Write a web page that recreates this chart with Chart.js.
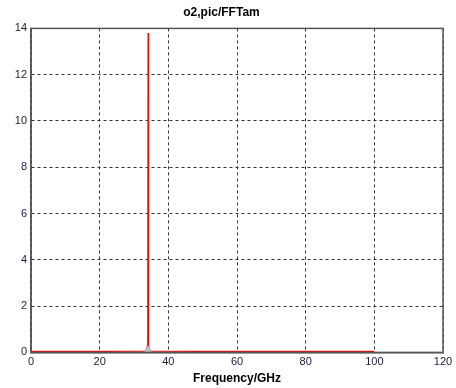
<!DOCTYPE html>
<html>
<head>
    <meta charset="utf-8" />
    <title>o2,pic/FFTam</title>
    <script src="https://cdn.jsdelivr.net/npm/chart.js"></script>
    <style>
        body { margin: 0; background: #fff; }
        #wrap { width: 456px; height: 388px; }
    </style>
</head>
<body>
    <div id="wrap"><canvas id="chart"></canvas></div>

    <script>
        // spectrum samples (GHz, amplitude)
        const freqs = [0, 20, 33.3, 33.7, 33.9, 34.0, 34.1, 34.2, 34.3, 34.5, 34.9, 50, 100];
        const amps  = [0.04, 0.04, 0.05, 0.1, 0.3, 0.8, 13.8, 0.8, 0.3, 0.1, 0.05, 0.04, 0.04];
        // small grey bump under the peak
        const bumpFreqs = [33.0, 34.1, 35.2];
        const bumpAmps  = [0.0, 0.3, 0.0];

        const xTicks = [0, 20, 40, 60, 80, 100, 120];
        const yTicks = [0, 2, 4, 6, 8, 10, 12, 14];

        const toXY = (xs, ys) => xs.map((x, i) => ({x: x, y: ys[i]}));

        var ctx = document.getElementById('chart').getContext('2d');
        new Chart(ctx, {
            type: 'line',
            data: {
                datasets: [{
                    data: toXY(bumpFreqs, bumpAmps),
                    borderColor: '#a0a0a0',
                    backgroundColor: '#c8c8c8',
                    fill: true,
                    borderWidth: 1,
                    pointRadius: 0,
                    tension: 0
                }, {
                    data: toXY(freqs, amps),
                    borderColor: '#ff0000',
                    borderWidth: 1.2,
                    pointRadius: 0,
                    tension: 0
                }]
            },
            options: {
                responsive: true,
                maintainAspectRatio: false,
                animation: false,
                layout: { padding: { left: 0, right: 13, top: 0, bottom: 0 } },
                plugins: {
                    legend: { display: false },
                    tooltip: { enabled: false },
                    title: {
                        display: true,
                        text: 'o2,pic/FFTam',
                        color: '#000',
                        font: { family: 'Arial, "Liberation Sans"', size: 12, weight: 'bold' },
                        padding: { top: 5, bottom: 9 }
                    }
                },
                scales: {
                    x: {
                        type: 'linear',
                        min: 0,
                        max: 120,
                        afterBuildTicks: s => { s.ticks = xTicks.map(v => ({value: v})); },
                        ticks: {
                            color: '#1a1a3a',
                            font: { family: 'Arial, "Liberation Sans"', size: 11 },
                            padding: 3,
                            maxRotation: 0
                        },
                        grid: {
                            color: '#333',
                            lineWidth: 1,
                            drawTicks: false
                        },
                        // in v4 border.dash styles the grid lines
                        border: { color: '#555', width: 1.5, dash: [3, 3] },
                        title: {
                            display: true,
                            text: 'Frequency/GHz',
                            color: '#000',
                            font: { family: 'Arial, "Liberation Sans"', size: 12, weight: 'bold' },
                            padding: { top: 0, bottom: 2 }
                        }
                    },
                    y: {
                        min: 0,
                        max: 14,
                        afterBuildTicks: s => { s.ticks = yTicks.map(v => ({value: v})); },
                        afterFit: s => { s.width = 31; },
                        ticks: {
                            color: '#1a1a3a',
                            font: { family: 'Arial, "Liberation Sans"', size: 11 },
                            padding: 4
                        },
                        grid: {
                            color: '#333',
                            lineWidth: 1,
                            drawTicks: false
                        },
                        border: { color: '#555', width: 1.5, dash: [3, 3] }
                    }
                }
            },
            plugins: [{
                // solid box around the axes, like the original
                id: 'box',
                afterDraw(chart) {
                    const a = chart.chartArea, c = chart.ctx;
                    c.save();
                    c.strokeStyle = '#555';
                    c.lineWidth = 1.5;
                    c.setLineDash([]);
                    c.strokeRect(a.left, a.top, a.right - a.left, a.bottom - a.top);
                    c.restore();
                }
            }]
        });
    </script>
</body>
</html>
